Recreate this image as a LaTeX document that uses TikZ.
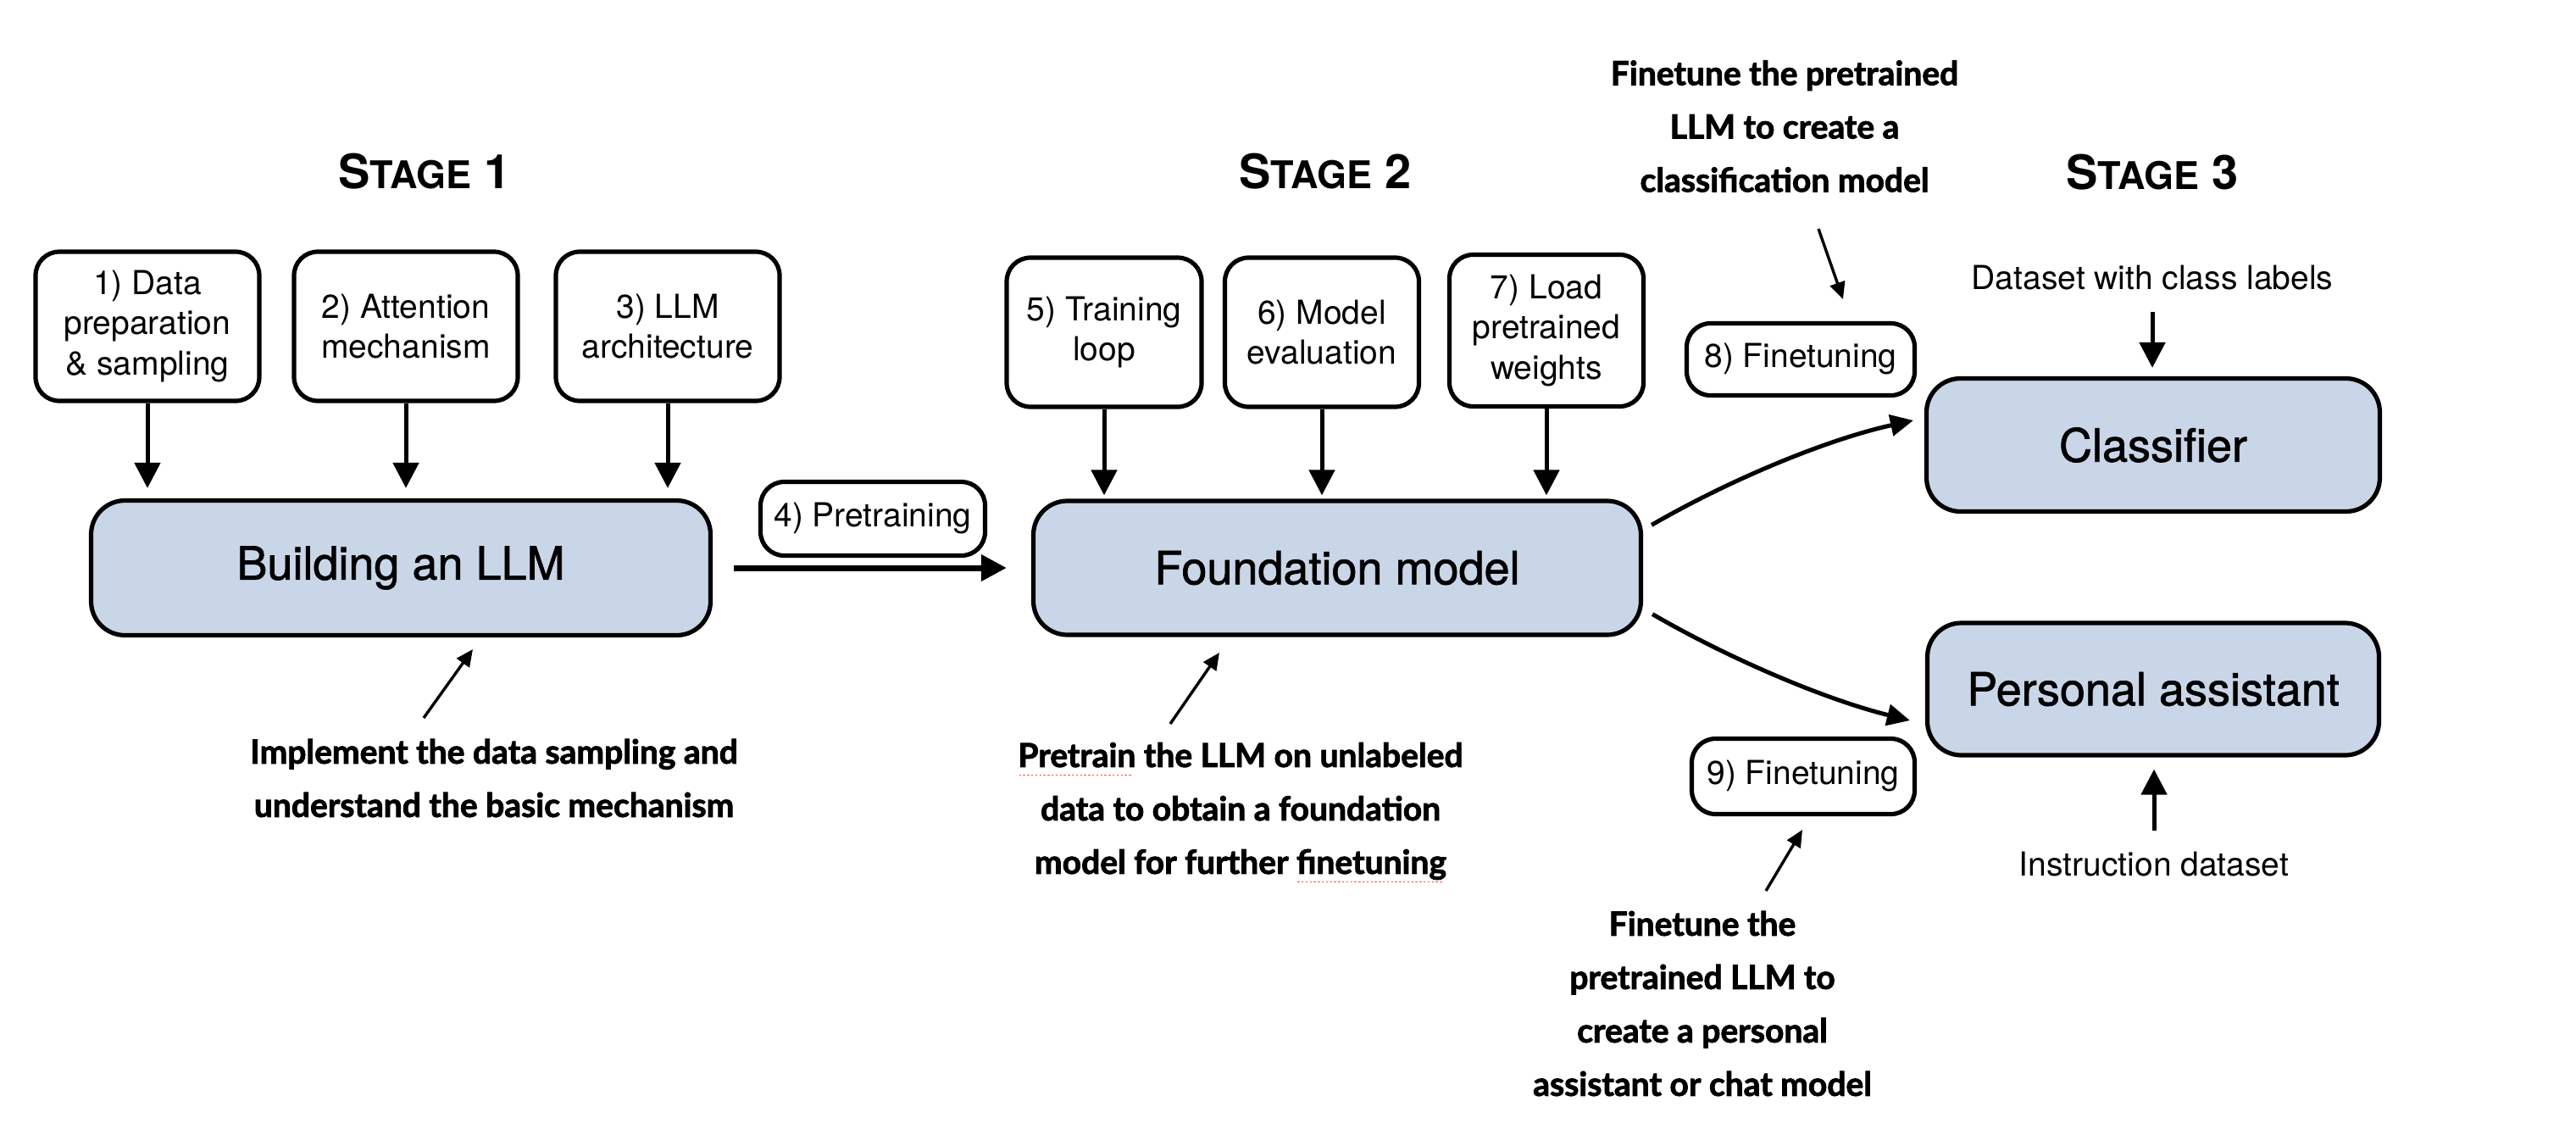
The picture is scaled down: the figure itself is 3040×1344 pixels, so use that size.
\documentclass[tikz,border=0pt]{standalone}
\usepackage{fontspec}
\setmainfont{TeX Gyre Heros}
\newfontfamily\medfont[FakeBold=1.3]{TeX Gyre Heros}
\newfontfamily\annfont[BoldFeatures={FakeBold=2.2}]{Lato}
\usetikzlibrary{arrows.meta,calc}
\definecolor{boxblue}{RGB}{201,214,232}
\newsavebox\sqbox
\newcommand\squig[1]{\sbox\sqbox{#1}\rlap{\color{red!70}\raisebox{-5pt}[0pt][0pt]{\hbox to \wd\sqbox{\leaders\hbox to 2.4pt{\hss\rule{1.2pt}{0.7pt}\hss}\hfill}}}\usebox\sqbox}
\newcommand\stagett[1]{{\fontsize{28}{30}\selectfont S\fontsize{22.5}{30}\selectfont TAGE\fontsize{28}{30}\selectfont\ #1}}
\tikzset{
  smallbox/.style={draw, line width=2.6pt, rounded corners=14pt, fill=white, align=center, inner sep=0pt, font=\fontsize{19.5}{23.75}\selectfont},
  bigbox/.style={draw, line width=2.6pt, rounded corners=20pt, fill=boxblue, align=center, inner sep=0pt, font=\medfont\fontsize{27}{32}\selectfont},
  flow/.style={line width=2.5pt, -{Triangle[length=15pt,width=15pt]}},
  note/.style={align=center, font=\annfont\bfseries\fontsize{19.5}{31.5}\selectfont},
  notearrow/.style={line width=1.7pt, -{Triangle[length=10pt,width=9pt]}},
  plain/.style={font=\fontsize{19.5}{23.75}\selectfont},
  stagetitle/.style={font=\bfseries}
}
\begin{document}
\begin{tikzpicture}[x=0.5pt,y=0.5pt]
\fill[white] (0,0) rectangle (3040,-1344);
\useasboundingbox (0,0) rectangle (3040,-1344);

% stage titles
\node[stagetitle] (s1) at (501,-202) {\stagett{1}};
\node[stagetitle] (s2) at (1564,-202) {\stagett{2}};
\node[stagetitle] (s3) at (2540,-203) {\stagett{3}};

% stage 1
\node[smallbox, minimum width=132pt, minimum height=88pt] (b1) at (174,-385) {1) Data\\preparation\\\& sampling};
\node[smallbox, minimum width=132pt, minimum height=88pt] (b2) at (479,-385) {2) Attention\\mechanism};
\node[smallbox, minimum width=132pt, minimum height=88pt] (b3) at (788,-385) {3) LLM\\architecture};
\node[bigbox, minimum width=365.5pt, minimum height=79.5pt] (build) at (473,-670) {Building an LLM};

% stage 2
\node[smallbox, minimum width=132.5pt, minimum height=43.5pt] (pre) at (1030,-612) {4) Pretraining};
\node[bigbox, minimum width=358.5pt, minimum height=79pt] (found) at (1578,-670) {Foundation model};
\node[smallbox, minimum width=115pt, minimum height=88pt] (b5) at (1303,-392) {5) Training\\loop};
\node[smallbox, minimum width=114.5pt, minimum height=88pt] (b6) at (1560,-392) {6) Model\\evaluation};
\node[smallbox, minimum width=114.5pt, minimum height=89.5pt] (b7) at (1825,-390) {7) Load\\pretrained\\weights};

% stage 3
\node[smallbox, minimum width=134.5pt, minimum height=42.5pt] (ft8) at (2125,-424) {8) Finetuning};
\node[smallbox, minimum width=131.5pt, minimum height=44.5pt] (ft9) at (2128,-916) {9) Finetuning};
\node[bigbox, minimum width=267.5pt, minimum height=78.5pt] (cls) at (2541,-525) {Classifier};
\node[bigbox, minimum width=266.5pt, minimum height=78pt] (pa) at (2541,-813) {Personal assistant};
\node[plain] (dscl) at (2540,-328) {Dataset with class labels};
\node[plain] (instr) at (2542,-1020) {Instruction dataset};

% notes
\node[note] (n1) at (583,-918) {Implement the data sampling and\\understand the basic mechanism};
\node[note] (n2) at (1464,-957) {\squig{Pretrain} the LLM on unlabeled\\data to obtain a foundation\\model for further \squig{finetuning}};
\node[note] (n3) at (2106,-149) {Finetune the pretrained\\LLM to create a\\classification model};
\node[note] (n4) at (2009,-1184) {Finetune the\\pretrained LLM to\\create a personal\\assistant or chat model};

% vertical arrows
\foreach \b in {b1,b2,b3} \draw[flow, shorten >=6pt] (\b.south) -- (\b.south |- build.north);
\foreach \b in {b5,b6,b7} \draw[flow, shorten >=2pt] (\b.south) -- (\b.south |- found.north);
\draw[flow, shorten <=9pt, shorten >=5pt] (dscl.south) -- (dscl.south |- cls.north);
\draw[flow, shorten <=9pt, shorten >=7pt] (instr.north) -- (instr.north |- pa.south);

% pretraining arrow
\draw[flow, line width=3.5pt, shorten <=12.5pt, shorten >=14.5pt] (build.east) -- (found.west);

% curved finetuning arrows
\coordinate (c1s) at ($(found.north east)+(10,-31)$);
\coordinate (c1e) at ($(cls.west)+(-13,29)$);
\coordinate (c2s) at ($(found.south east)+(11,27)$);
\coordinate (c2e) at ($(pa.west)+(-18,-37)$);
\draw[line width=2.5pt, -{Triangle[length=13.5pt,width=12.5pt]}] (c1s) .. controls ($(c1s)+(95,55)$) and ($(c1e)+(-100,-22)$) .. (c1e);
\draw[line width=2.5pt, -{Triangle[length=13.5pt,width=12.5pt]}] (c2s) .. controls ($(c2s)+(95,-55)$) and ($(c2e)+(-97,24)$) .. (c2e);

% note arrows
\coordinate (t1) at (500,-847); \coordinate (h1) at (558,-766);
\coordinate (t2) at (1381,-854); \coordinate (h2) at (1439,-770);
\coordinate (t3) at (2146,-270); \coordinate (h3) at (2175,-353);
\coordinate (t4) at (2084,-1051); \coordinate (h4) at (2127,-979);
\draw[notearrow] (t1) -- (h1);
\draw[notearrow] (t2) -- (h2);
\draw[notearrow] (t3) -- (h3);
\draw[notearrow] (t4) -- (h4);
\end{tikzpicture}
\end{document}
